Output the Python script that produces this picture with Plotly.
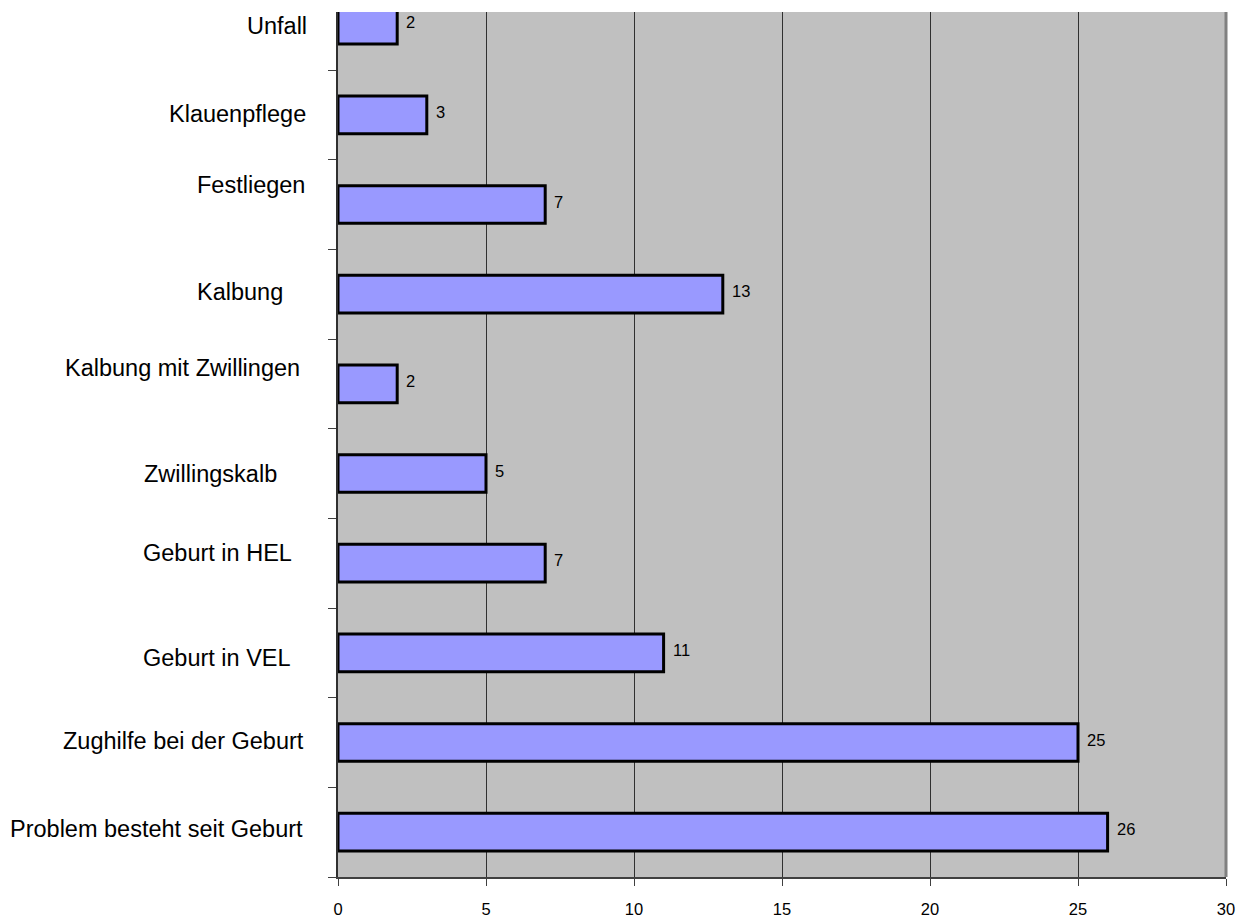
import plotly.graph_objects as go

# Categories listed bottom to top
categories = [
    "Problem besteht seit Geburt",
    "Zughilfe bei der Geburt",
    "Geburt in VEL",
    "Geburt in HEL",
    "Zwillingskalb",
    "Kalbung mit Zwillingen",
    "Kalbung",
    "Festliegen",
    "Klauenpflege",
    "Unfall",
]
counts = [26, 25, 11, 7, 5, 2, 13, 7, 3, 2]
x_ticks = [0, 5, 10, 15, 20, 25, 30]

# Label placement tweaks (pixel shifts of each category caption)
label_right_px = [305, 306, 293, 294, 279, 302, 285, 307, 308, 309]
label_yshift = [3, 2, -5, 10, 0, 16, 2, 20, 1, -1]

W, H = 1241, 917
L, R, T, B = 338, 15, 12, 40
FONT = "Liberation Sans, Arial, sans-serif"

fig = go.Figure()
fig.add_trace(go.Bar(
    y=categories,
    x=counts,
    orientation="h",
    width=0.42,
    marker=dict(color="#9999FF", line=dict(color="black", width=3)),
    hoverinfo="x+y",
))

annotations = []
for cat, v in zip(categories, counts):
    annotations.append(dict(
        x=v, y=cat, xref="x", yref="y",
        text=str(v), showarrow=False,
        xanchor="left", yanchor="middle",
        xshift=7, yshift=3,
        font=dict(family=FONT, size=16.5, color="black"),
    ))
for cat, rx, ys in zip(categories, label_right_px, label_yshift):
    annotations.append(dict(
        x=(rx - L) / (W - L - R), y=cat, xref="paper", yref="y",
        text=cat, showarrow=False,
        xanchor="right", yanchor="middle",
        yshift=ys,
        font=dict(family=FONT, size=23.5, color="black"),
    ))

# right-hand frame edge of the plot area
shapes = [dict(type="line", xref="paper", yref="paper", x0=1, x1=1, y0=0, y1=1,
               line=dict(color="#808080", width=3))]

fig.update_layout(
    width=W, height=H,
    margin=dict(l=L, r=R, t=T, b=B, autoexpand=False),
    paper_bgcolor="white",
    plot_bgcolor="#C0C0C0",
    showlegend=False,
    annotations=annotations,
    shapes=shapes,
    font=dict(family=FONT, color="black"),
)
fig.update_xaxes(
    range=[0, 30],
    tickvals=x_ticks,
    ticktext=[str(t) for t in x_ticks],
    ticks="outside", ticklen=7, tickcolor="#404040", tickwidth=1,
    ticklabelstandoff=9,
    tickfont=dict(size=16.5, family=FONT),
    showgrid=True, gridcolor="#303030", gridwidth=1,
    showline=True, linecolor="#404040", linewidth=2,
    zeroline=False, fixedrange=True, automargin=False,
)
fig.update_yaxes(
    type="category",
    categoryorder="array", categoryarray=categories,
    range=[-0.5, 9.147],
    ticks="outside", tickson="boundaries", ticklen=8, tickcolor="#404040",
    showticklabels=False,
    showgrid=False,
    showline=True, linecolor="#303030", linewidth=2,
    zeroline=False, fixedrange=True, automargin=False,
)

fig.write_html("out.html")
